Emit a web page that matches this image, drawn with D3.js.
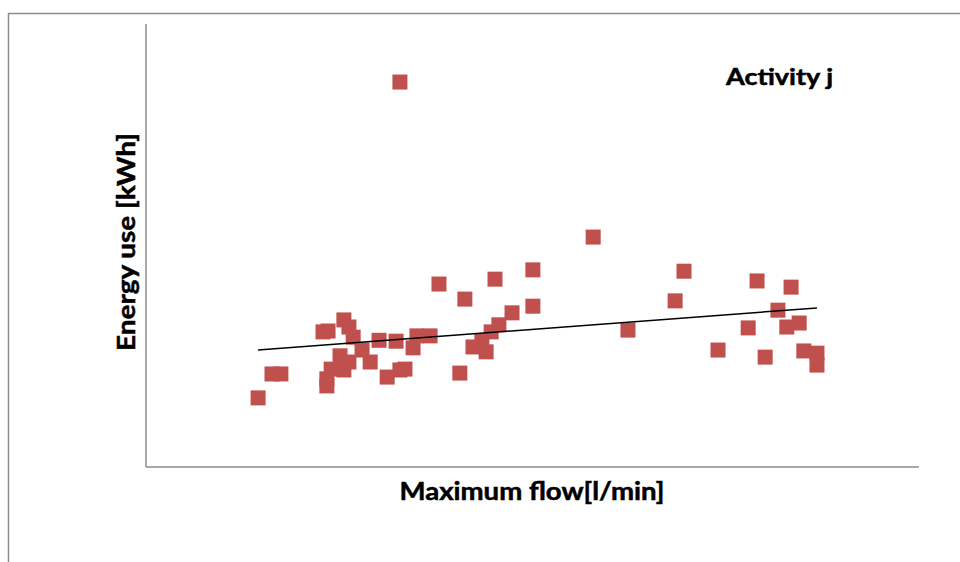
<!DOCTYPE html>
<html>
<head>
<meta charset="utf-8">
<script src="https://cdn.jsdelivr.net/npm/d3@7"></script>
<style>
  body { margin: 0; background: #fff; }
  svg { display: block; }
  text { font-family: Lato, "Open Sans", sans-serif; font-weight: bold; fill: #000; stroke: #000; stroke-width: 0.5; }
</style>
</head>
<body>
<div id="chart"></div>
<script>
// valeurs (pas de graduations : échelle arbitraire)
var flow = [2.90, 3.26, 3.49, 4.58, 4.71, 4.68, 4.68, 4.79, 5.02, 5.12,
            5.25, 5.36, 5.12, 5.25, 5.59, 5.80, 6.03, 6.24, 6.47, 6.57,
            6.70, 6.91, 7.01, 7.35, 6.57, 7.58, 8.25, 9.03, 10.01, 10.01,
            9.47, 9.13, 8.93, 8.69, 8.46, 8.80, 8.12, 11.57, 12.47, 13.92,
            13.69, 14.80, 15.58, 15.81, 16.02, 16.35, 16.58, 16.69, 16.90, 17.02,
            17.36, 17.36];
var energy = [1.56, 2.10, 2.10, 3.05, 3.07, 1.99, 1.83, 2.21, 2.51, 3.32,
              3.16, 2.93, 2.19, 2.37, 2.64, 2.37, 2.86, 2.03, 2.84, 2.19,
              2.21, 2.69, 2.96, 2.96, 8.69, 4.13, 3.79, 4.24, 4.45, 3.63,
              3.48, 3.21, 3.05, 2.84, 2.71, 2.60, 2.12, 5.19, 3.09, 4.42,
              3.75, 2.64, 3.14, 4.20, 2.48, 3.54, 3.16, 4.06, 3.25, 2.62,
              2.57, 2.30];
// tendance linéaire (extrémités)
var trendX = [2.90, 17.36];
var trendY = [2.64, 3.59];

var width = 960, height = 562;
var svg = d3.select("#chart").append("svg")
  .attr("width", width).attr("height", height);

// cadre du graphique
svg.append("rect")
  .attr("x", 8.5).attr("y", 13.5)
  .attr("width", 1000).attr("height", 600)
  .attr("fill", "none").attr("stroke", "#8c8c8c").attr("stroke-width", 1.5);

var x = d3.scaleLinear().domain([0, 20]).range([146, 919]);
var y = d3.scaleLinear().domain([0, 10]).range([467, 24]);

// axes sans graduations
svg.append("line")
  .attr("x1", x(0)).attr("x2", x(0)).attr("y1", y(10)).attr("y2", y(0))
  .attr("stroke", "#8c8c8c").attr("stroke-width", 1.5);
svg.append("line")
  .attr("x1", x(0)).attr("x2", x(20)).attr("y1", y(0)).attr("y2", y(0))
  .attr("stroke", "#8c8c8c").attr("stroke-width", 1.5);

var pts = flow.map((f, i) => ({ f: f, e: energy[i] }));
var s = 15;
svg.append("g")
  .selectAll("rect")
  .data(pts)
  .join("rect")
    .attr("x", d => x(d.f) - s / 2)
    .attr("y", d => y(d.e) - s / 2)
    .attr("width", s).attr("height", s)
    .attr("fill", "#C0504D");

svg.append("line")
  .attr("x1", x(trendX[0])).attr("y1", y(trendY[0]))
  .attr("x2", x(trendX[1])).attr("y2", y(trendY[1]))
  .attr("stroke", "#000").attr("stroke-width", 1.5);

// textes
svg.append("text")
  .attr("x", 726).attr("y", 85)
  .attr("font-size", 22)
  .attr("textLength", 107).attr("lengthAdjust", "spacingAndGlyphs")
  .text("Activity j");

svg.append("text")
  .attr("x", 532).attr("y", 500)
  .attr("text-anchor", "middle")
  .attr("font-size", 24)
  .attr("textLength", 265).attr("lengthAdjust", "spacingAndGlyphs")
  .text("Maximum flow[l/min]");

svg.append("text")
  .attr("transform", "translate(135,242) rotate(-90)")
  .attr("text-anchor", "middle")
  .attr("font-size", 24)
  .attr("textLength", 218).attr("lengthAdjust", "spacingAndGlyphs")
  .text("Energy use [kWh]");
</script>
</body>
</html>
